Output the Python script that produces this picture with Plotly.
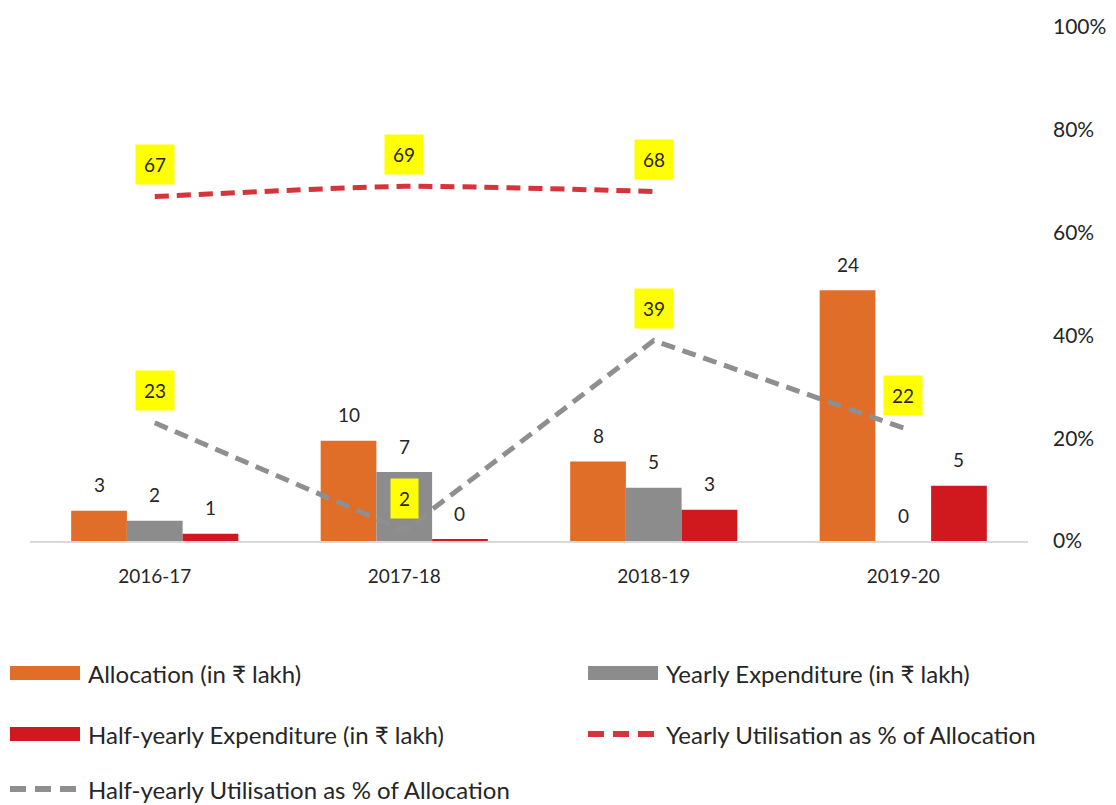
import plotly.graph_objects as go

# ---------------- data ----------------
years = ["2016-17", "2017-18", "2018-19", "2019-20"]
allocation = [2.9, 9.6, 7.6, 24.0]
yearly_exp = [1.95, 6.6, 5.1, 0.0]
half_exp = [0.7, 0.1, 3.0, 5.3]
yearly_util = [67, 69, 68, None]
half_util = [23, 2, 39, 22]

bar_names = ["Allocation (in ₹ lakh)", "Yearly Expenditure (in ₹ lakh)",
             "Half-yearly Expenditure (in ₹ lakh)"]
line_names = ["Yearly Utilisation as % of Allocation",
              "Half-yearly Utilisation as % of Allocation"]

# ---------------- style ----------------
FONT = "Lato, 'Noto Sans', sans-serif"
C_ORANGE = "#E06D28"
C_GRAY = "#8C8C8D"
C_RED = "#D0191F"
C_LRED = "#D6333A"
C_LGRAY = "#8F8F8F"
TXT = "#262626"

W, H = 1116, 805
OFF = 8  # page body margin
L, R, T, B = 30 - OFF, 96, 27 - OFF, 272
PW, PH = W - L - R, H - T - B


def px_x(x):
    return (x - OFF - L) / PW


def px_y(y):
    return (H - B - (y - OFF)) / PH


fig = go.Figure()

bar_series = [allocation, yearly_exp, half_exp]
bar_colors = [C_ORANGE, C_GRAY, C_RED]
for name, vals, col in zip(bar_names, bar_series, bar_colors):
    fig.add_trace(go.Bar(x=years, y=vals, name=name, marker_color=col,
                         marker_line_width=0, showlegend=False,
                         hoverinfo="skip"))

fig.add_trace(go.Scatter(x=years, y=yearly_util, yaxis="y2", mode="lines",
                         name=line_names[0], showlegend=False,
                         line=dict(color=C_LRED, width=5, dash="14px,8px",
                                   shape="spline", smoothing=0.6)))
fig.add_trace(go.Scatter(x=years, y=half_util, yaxis="y2", mode="lines",
                         name=line_names[1], showlegend=False,
                         line=dict(color=C_LGRAY, width=5, dash="14px,8px")))

annotations = []
# bar value labels
bar_w = 55.5
offsets = [-bar_w, 0, bar_w]
for vals, off in zip(bar_series, offsets):
    for yr, v in zip(years, vals):
        annotations.append(dict(x=yr, y=v, xref="x", yref="y", text=f"{v:.0f}",
                                showarrow=False, xshift=off, yshift=26,
                                font=dict(family=FONT, size=19, color=TXT)))
# line value labels (yellow boxes)
for vals in [yearly_util, half_util]:
    for yr, v in zip(years, vals):
        if v is None:
            continue
        annotations.append(dict(x=yr, y=v, xref="x", yref="y2", text=f"{v:.0f}",
                                showarrow=False, yshift=32, bgcolor="#FFFF00",
                                borderpad=8,
                                font=dict(family=FONT, size=19, color=TXT)))

# custom legend (positions in window pixels)
legend_items = [
    ("bar", C_ORANGE, bar_names[0], 10, 673),
    ("bar", C_GRAY, bar_names[1], 588, 673),
    ("bar", C_RED, bar_names[2], 10, 734),
    ("line", C_LRED, line_names[0], 588, 734),
    ("line", C_LGRAY, line_names[1], 10, 789),
]
shapes = []
for kind, col, label, x0, yc in legend_items:
    if kind == "bar":
        shapes.append(dict(type="rect", xref="paper", yref="paper",
                           x0=px_x(x0), x1=px_x(x0 + 70),
                           y0=px_y(yc + 7), y1=px_y(yc - 7),
                           fillcolor=col, line=dict(width=0)))
    else:
        shapes.append(dict(type="line", xref="paper", yref="paper",
                           x0=px_x(x0), x1=px_x(x0 + 68),
                           y0=px_y(yc), y1=px_y(yc),
                           line=dict(color=col, width=6, dash="16px,9px")))
    annotations.append(dict(x=px_x(x0 + 76), y=px_y(yc), xref="paper", yref="paper",
                            text=label, showarrow=False, xanchor="left",
                            yanchor="middle",
                            font=dict(family=FONT, size=24, color=TXT)))

fig.update_layout(
    width=W, height=H,
    margin=dict(l=L, r=R, t=T, b=B, autoexpand=False),
    paper_bgcolor="white", plot_bgcolor="white",
    barmode="group", bargap=0.33, bargroupgap=0,
    font=dict(family=FONT, color=TXT),
    xaxis=dict(type="category", showline=True, linecolor="#D9D9D9", linewidth=2,
               showgrid=False, zeroline=False, ticks="", automargin=False,
               tickfont=dict(family=FONT, size=19, color=TXT),
               ticklabelstandoff=17),
    yaxis=dict(range=[0, 49.2], visible=False, showgrid=False, zeroline=False,
               automargin=False),
    yaxis2=dict(range=[0, 100], overlaying="y", side="right", showgrid=False,
                zeroline=False, dtick=20, ticksuffix="%", showline=False,
                ticks="", ticklabelstandoff=24, automargin=False,
                tickfont=dict(family=FONT, size=21, color=TXT)),
    annotations=annotations,
    shapes=shapes,
    showlegend=False,
)

fig.write_html("out.html")
